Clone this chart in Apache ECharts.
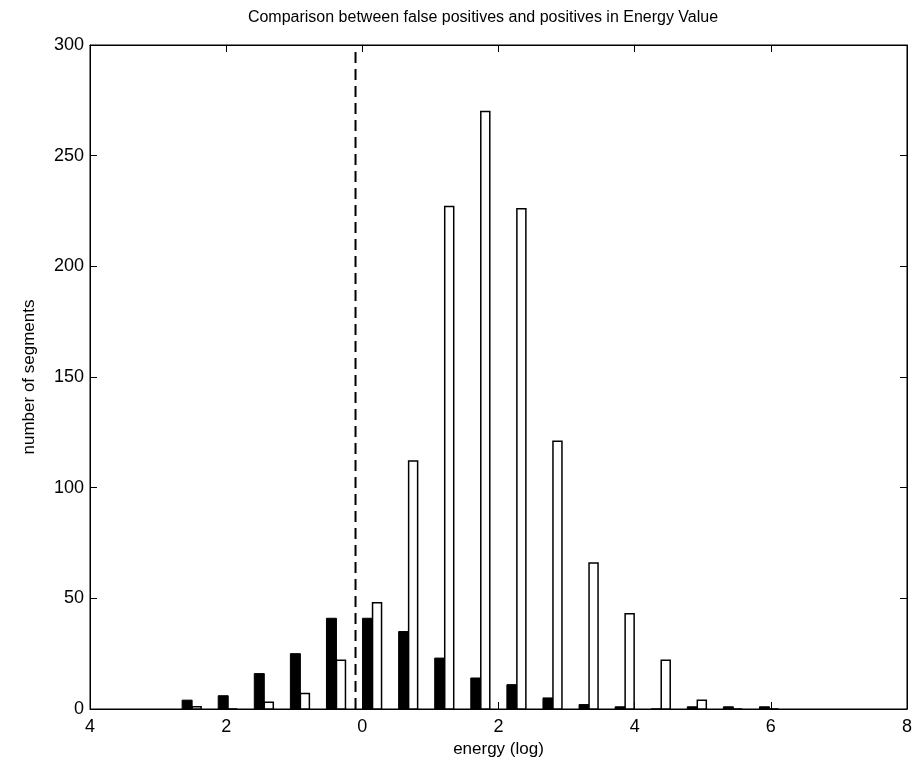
<!DOCTYPE html>
<html>
<head>
<meta charset="utf-8">
<script src="https://cdn.jsdelivr.net/npm/echarts@6/dist/echarts.min.js"></script>
<style>html,body{margin:0;padding:0;background:#fff}#c{width:915px;height:765px}</style>
</head>
<body>
<div id="c"></div>
<script>
// Data
var binCenters = [-2.5, -1.97, -1.44, -0.91, -0.38, 0.15, 0.68, 1.21, 1.74, 2.27, 2.8, 3.33, 3.86, 4.39, 4.92, 5.45, 5.98];
var falsePositives = [4, 6, 16, 25, 41, 41, 35, 23, 14, 11, 5, 2, 1, 0, 1, 1, 1];
var positives = [1, 0, 3, 7, 22, 48, 112, 227, 270, 226, 121, 66, 43, 22, 4, 0, 0];
var threshold = [-0.1];
var xTickValues = [-4, -2, 0, 2, 4, 6, 8];
var xTickLabels = ['4', '2', '0', '2', '4', '6', '8'];
var yTickLabels = ['0', '50', '100', '150', '200', '250', '300'];

var font = 'Liberation Sans, Arial, Helvetica, sans-serif';

function makeData(vals) {
  return binCenters.map(function (c, i) { return [c, vals[i]]; });
}

function barRenderer(side) {
  return function (params, api) {
    var c = api.value(0), v = api.value(1);
    var p0 = api.coord([c, 0]);
    var p1 = api.coord([c, v]);
    var w = side === 'left' ? 10 : 9;
    var x = side === 'left' ? p0[0] - w : p0[0];
    return {
      type: 'rect',
      shape: { x: x, y: p1[1], width: w, height: p0[1] - p1[1] },
      style: side === 'left'
        ? { fill: '#000', stroke: '#000', lineWidth: 1 }
        : { fill: '#fff', stroke: '#000', lineWidth: 1.5 }
    };
  };
}

var tick = { show: true, inside: true, length: 7, lineStyle: { color: '#000' } };
var line = { show: true, onZero: false, lineStyle: { color: '#000', width: 1 } };

var chart = echarts.init(document.getElementById('c'), null, { renderer: 'canvas' });
chart.setOption({
  animation: false,
  backgroundColor: '#fff',
  title: {
    text: 'Comparison between false positives and positives in Energy Value',
    left: 478, top: 5, textAlign: 'center',
    textStyle: { fontFamily: font, fontSize: 16, fontWeight: 'normal', color: '#000' }
  },
  grid: { left: 90, right: 6, top: 45, bottom: 56, show: true, borderColor: '#000', borderWidth: 1, backgroundColor: 'transparent' },
  xAxis: [{
    type: 'value', min: -4, max: 8, interval: 2,
    name: 'energy (log)', nameLocation: 'middle', nameGap: 30,
    nameTextStyle: { fontFamily: font, fontSize: 17, color: '#000' },
    axisLine: line, axisTick: tick,
    axisLabel: { fontFamily: font, fontSize: 18, color: '#000', margin: 9,
      formatter: function (v) { var i = xTickValues.indexOf(v); return i >= 0 ? xTickLabels[i] : ''; } },
    splitLine: { show: false }
  }, {
    type: 'value', min: -4, max: 8, interval: 2, position: 'top',
    axisLine: line, axisTick: tick,
    axisLabel: { show: false }, splitLine: { show: false }
  }],
  yAxis: [{
    type: 'value', min: 0, max: 300, interval: 50,
    name: 'number of segments', nameLocation: 'middle', nameGap: 52, nameRotate: 90,
    nameTextStyle: { fontFamily: font, fontSize: 17, color: '#000' },
    axisLine: line, axisTick: tick,
    axisLabel: { fontFamily: font, fontSize: 18, color: '#000', margin: 6,
      formatter: function (v) { return yTickLabels[Math.round(v / 50)]; } },
    splitLine: { show: false }
  }, {
    type: 'value', min: 0, max: 300, interval: 50, position: 'right',
    axisLine: line, axisTick: tick,
    axisLabel: { show: false }, splitLine: { show: false }
  }],
  series: [{
    name: 'false positives', type: 'custom', renderItem: barRenderer('left'),
    data: makeData(falsePositives), encode: { x: 0, y: 1 }, z: 3
  }, {
    name: 'positives', type: 'custom', renderItem: barRenderer('right'),
    data: makeData(positives), encode: { x: 0, y: 1 }, z: 3
  }, {
    name: 'threshold', type: 'line', symbol: 'none',
    data: [[threshold[0], 0], [threshold[0], 300]],
    lineStyle: { color: '#000', width: 2, type: [11, 6] }, z: 4
  }]
});
</script>
</body>
</html>
